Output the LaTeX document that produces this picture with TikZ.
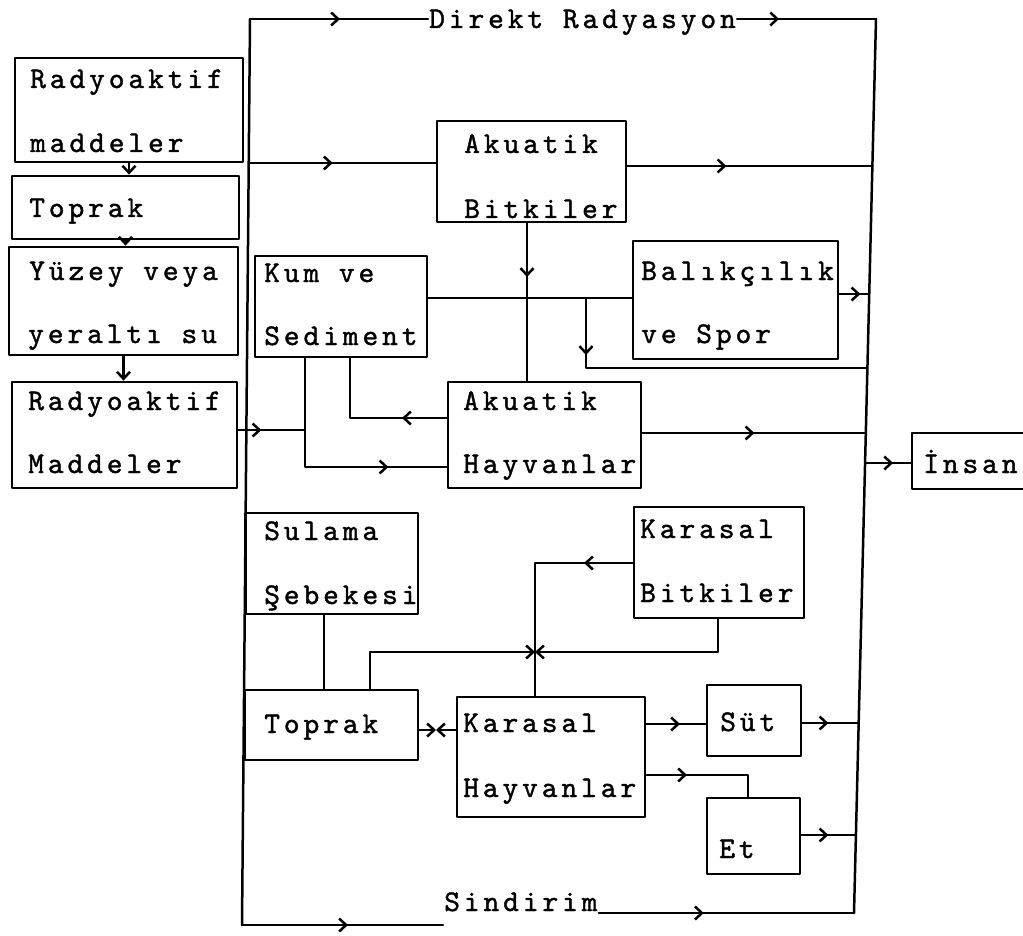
\documentclass[tikz,border=0pt]{standalone}
\usepackage{fontspec}
\newfontfamily\twf[LetterSpace=13,FakeBold=1.3]{lmmono10-regular.otf}
\usetikzlibrary{arrows.meta,decorations.markings,fit}
\tikzset{>={Straight Barb[length=7pt,width=13pt]}}
\begin{document}
\begin{tikzpicture}[x=1pt,y=-1pt,line width=2.5pt,line cap=round,line join=round,
  boxst/.style={draw,line width=2.8pt,inner sep=0pt,fit={#1}},
  lbl/.style={anchor=base west,inner sep=0pt,font=\twf\fontsize{30}{36}\selectfont},
  arr/.style={postaction={decorate,decoration={markings,mark=at position #1 with {\arrow{>}}}}}]
\useasboundingbox (0,0) rectangle (1023,936);

% boxes
\node[boxst={(15,58) (243,162)}] (b1) {};
\node[boxst={(12,176) (239,239)}] (b2) {};
\node[boxst={(9,247) (238,355)}] (b3) {};
\node[boxst={(12,382) (237,488)}] (b4) {};
\node[boxst={(437,121) (626,222)}] (AB) {};
\node[boxst={(255,256) (427,357)}] (KS) {};
\node[boxst={(633,241) (838,359)}] (BS) {};
\node[boxst={(448,382) (641,488)}] (AH) {};
\node[boxst={(912,433) (1045,489)}] (IN) {};
\node[boxst={(245.5,513) (418,614)}] (SU) {};
\node[boxst={(244.5,690) (418,760)}] (T2) {};
\node[boxst={(634,507) (804,618)}] (KB) {};
\node[boxst={(457,697) (645,817)}] (KH) {};
\node[boxst={(707,685) (801,756)}] (ST) {};
\node[boxst={(707,798) (800,874)}] (ET) {};

% texts
\node[lbl] (b1a) at (29,88) {Radyoaktif};
\node[lbl] (b1b) at (29,152) {maddeler};
\node[lbl] (b2a) at (28,217) {Toprak};
\node[lbl] (b3a) at (28,280) {Yüzey veya};
\node[lbl] (b3b) at (27,343) {yeraltı su};
\node[lbl] (b4a) at (27,410) {Radyoaktif};
\node[lbl] (b4b) at (27,473) {Maddeler};
\node[lbl] (KSa) at (263,282) {Kum ve};
\node[lbl] (KSb) at (263,345) {Sediment};
\node[lbl] (ABa) at (463,153) {Akuatik};
\node[lbl] (ABb) at (463,218) {Bitkiler};
\node[lbl] (BSa) at (640,280) {Balıkçılık};
\node[lbl] (BSb) at (640,343) {ve Spor};
\node[lbl] (AHa) at (462,410) {Akuatik};
\node[lbl] (AHb) at (462,473) {Hayvanlar};
\node[lbl] (INa) at (922,473) {İnsan};
\node[lbl] (SUa) at (263,540) {Sulama};
\node[lbl] (SUb) at (263,604) {Şebekesi};
\node[lbl] (T2a) at (263,733) {Toprak};
\node[lbl] (KBa) at (639,538) {Karasal};
\node[lbl] (KBb) at (639,602) {Bitkiler};
\node[lbl] (KHa) at (462,732) {Karasal};
\node[lbl] (KHb) at (462,797) {Hayvanlar};
\node[lbl] (STa) at (719,731) {Süt};
\node[lbl] (ETa) at (718,858) {Et};
\node[lbl] (DR) at (428,28) {Direkt Radyasyon};
\node[lbl] (SD) at (443,911) {Sindirim};

% buses
\coordinate (LT) at (250,19);
\coordinate (LB) at (242,925);
\coordinate (RT) at (876,19);
\coordinate (RB) at (854,913);
\draw (LT) -- (LB);
\draw (RT) -- (RB);
\draw[arr=90pt] (LT) -- (LT -| DR.west);
\draw[arr=42pt] (LT -| DR.east) -- (RT);
\draw[arr=106pt] (LB) -- (LB -| SD.west);
\draw[arr=105pt] (SD.east |- RB) -- (RB);

% left column
\draw[->] (b1.south) -- (b1.south |- b2.north);
\draw[->] (b2.south) -- (b2.south |- b3.north);
\draw[->] (b3.south) -- (b3.south |- b4.north);

% aquatic part
\coordinate (l163) at (248.7,163);
\draw[arr=84pt] (l163) -- (l163 -| AB.west);
\coordinate (r166) at (872.4,166);
\draw[arr=99pt] (AB.east |- r166) -- (r166);
\coordinate (ab1) at (527,222);
\draw[arr=55pt] (ab1) -- (ab1 |- AH.north);
\coordinate (ks1) at (427,298);
\draw (ks1) -- (ks1 -| BS.west);
\coordinate (jb) at (586,298);
\coordinate (r368) at (867.4,368);
\draw[arr=57pt] (jb) |- (r368);
\coordinate (r294) at (869.2,294);
\draw[arr=21pt] (BS.east |- r294) -- (r294);
\coordinate (j1) at (305,430);
\draw[arr=23pt] (b4.east |- j1) -- (j1);
\coordinate (ah1) at (448,467);
\draw[arr=192pt] (KS.south -| j1) |- (ah1);
\coordinate (ah2) at (448,418);
\coordinate (k2) at (350,357);
\draw[arr=46pt] (ah2) -| (k2);
\coordinate (r433) at (865.8,433);
\draw[arr=112pt] (AH.east |- r433) -- (r433);
\coordinate (r463) at (865.1,463);
\draw[arr=28pt] (r463) -- (r463 -| IN.west);

% terrestrial part
\coordinate (su1) at (324,614);
\draw (su1) -- (su1 |- T2.north);
\coordinate (t2a) at (370,690);
\coordinate (kj) at (535,652);
\draw[->] (t2a) |- (kj);
\coordinate (kb1) at (718,618);
\draw[->] (kb1) |- (kj);
\coordinate (kb2) at (634,563);
\draw[arr=50pt] (kb2) -| (kj) -- (kj |- KH.north);
\coordinate (tk) at (436,730);
\draw[->] (T2.east |- tk) -- (tk);
\draw[->] (KH.west |- tk) -- (tk);
\coordinate (kh1) at (645,724);
\draw[arr=35pt] (kh1) -- (kh1 -| ST.west);
\coordinate (r723) at (858.7,723);
\draw[arr=26pt] (ST.east |- r723) -- (r723);
\coordinate (kh2) at (645,775);
\coordinate (et1) at (748,798);
\draw[arr=42pt] (kh2) -| (et1);
\coordinate (r835) at (855.9,835);
\draw[arr=27pt] (ET.east |- r835) -- (r835);
\end{tikzpicture}
\end{document}
